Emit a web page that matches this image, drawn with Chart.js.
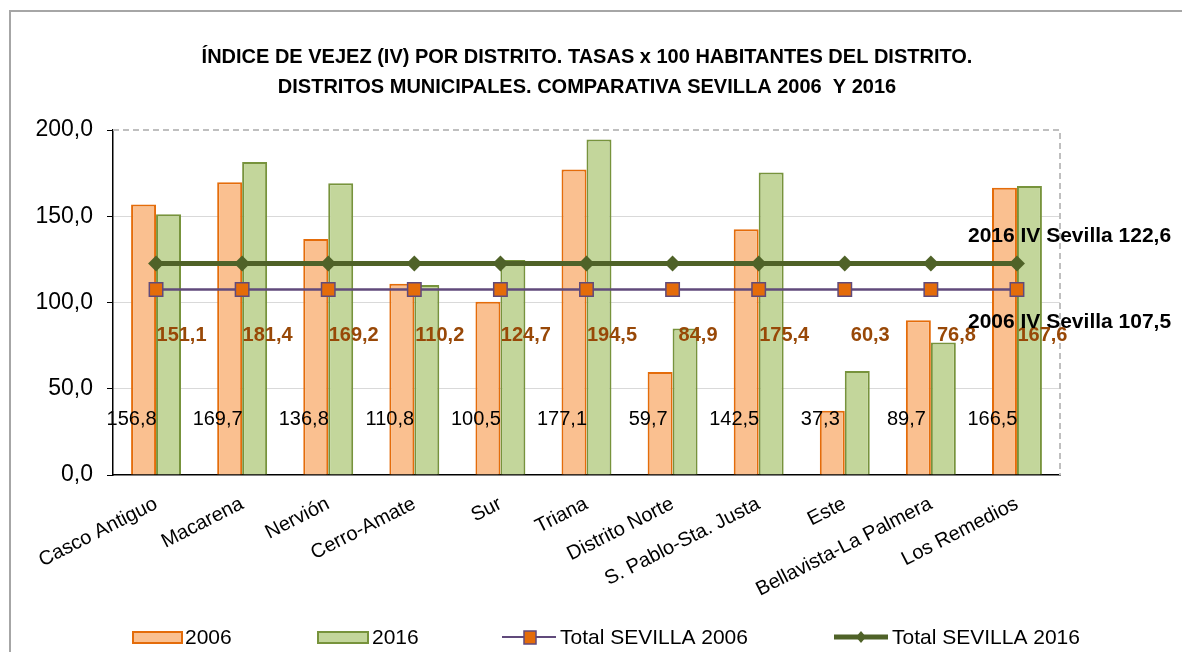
<!DOCTYPE html>
<html>
<head>
<meta charset="utf-8">
<script src="https://cdn.jsdelivr.net/npm/chart.js@4.4.0/dist/chart.umd.min.js"></script>
<style>
    html, body { margin: 0; padding: 0; background: #fff; }
    #wrap { position: relative; width: 1182px; height: 652px; overflow: hidden; }
    #frame { position: absolute; left: 9px; top: 10px; width: 1200px; height: 700px;
             border-left: 2px solid #A6A6A6; border-top: 2px solid #A6A6A6; }
    canvas { position: absolute; left: 0; top: 0; }
</style>
</head>
<body>
<div id="wrap">
    <div id="frame"></div>
    <canvas id="chart" width="1182" height="652"></canvas>
</div>
<script>
// Índice de vejez por distrito, Sevilla 2006 / 2016
const districts = ['Casco Antiguo', 'Macarena', 'Nervión', 'Cerro-Amate', 'Sur', 'Triana',
    'Distrito Norte', 'S. Pablo-Sta. Justa', 'Este', 'Bellavista-La Palmera', 'Los Remedios'];
const values2006 = [156.8, 169.7, 136.8, 110.8, 100.5, 177.1, 59.7, 142.5, 37.3, 89.7, 166.5];
const values2016 = [151.1, 181.4, 169.2, 110.2, 124.7, 194.5, 84.9, 175.4, 60.3, 76.8, 167.6];
const total2006 = [107.5, 107.5, 107.5, 107.5, 107.5, 107.5, 107.5, 107.5, 107.5, 107.5, 107.5];
const total2016 = [122.6, 122.6, 122.6, 122.6, 122.6, 122.6, 122.6, 122.6, 122.6, 122.6, 122.6];
const yTicks = [0, 50, 100, 150, 200];

const titleLines = ['ÍNDICE DE VEJEZ (IV) POR DISTRITO. TASAS x 100 HABITANTES DEL DISTRITO.',
    'DISTRITOS MUNICIPALES. COMPARATIVA SEVILLA 2006  Y 2016'];

const ORANGE = '#E46C0A', ORANGE_FILL = '#FAC090';
const GREEN = '#77933C', GREEN_FILL = '#C3D69B';
const PURPLE = '#604A7B', DARK_GREEN = '#4F6228';
const BROWN = '#984807';

const fmt = v => v.toFixed(1).replace('.', ',');

// title, data labels, annotations, border and legend
const decorPlugin = {
    id: 'decor',
    beforeDatasetsDraw(chart) {
        const { ctx, chartArea: a } = chart;
        ctx.save();
        ctx.strokeStyle = '#BFBFBF';
        ctx.lineWidth = 2;
        ctx.setLineDash([6, 4]);
        ctx.beginPath();
        ctx.moveTo(a.left, a.top);
        ctx.lineTo(a.right, a.top);
        ctx.lineTo(a.right, a.bottom);
        ctx.stroke();
        ctx.restore();
    },
    afterDatasetsDraw(chart) {
        const { ctx } = chart;
        const y = chart.scales.y;
        const bars06 = chart.getDatasetMeta(0).data;
        const bars16 = chart.getDatasetMeta(1).data;
        ctx.save();
        ctx.textAlign = 'center';
        ctx.textBaseline = 'middle';
        ctx.font = '20px Arial, "Liberation Sans"';
        ctx.fillStyle = '#000';
        values2006.forEach((v, i) => {
            ctx.fillText(fmt(v), bars06[i].x - 12, y.getPixelForValue(32));
        });
        ctx.font = 'bold 20px Arial, "Liberation Sans"';
        ctx.fillStyle = BROWN;
        values2016.forEach((v, i) => {
            ctx.fillText(fmt(v), bars16[i].x + 13, y.getPixelForValue(81));
        });

        // total annotations
        const last = chart.getDatasetMeta(3).data[districts.length - 1];
        ctx.textAlign = 'left';
        ctx.fillStyle = '#000';
        ctx.font = 'bold 21px Arial, "Liberation Sans"';
        ctx.fillText('2016 IV Sevilla ' + fmt(total2016[0]), last.x - 49, y.getPixelForValue(total2016[0]) - 27);
        ctx.fillText('2006 IV Sevilla ' + fmt(total2006[0]), last.x - 49, y.getPixelForValue(total2006[0]) + 33);
        ctx.restore();
    },
    afterDraw(chart) {
        const { ctx } = chart;
        ctx.save();
        // title
        ctx.fillStyle = '#000';
        ctx.textAlign = 'center';
        ctx.textBaseline = 'middle';
        ctx.font = 'bold 20px "Liberation Sans Narrow", "Arial Narrow", sans-serif';
        ctx.fillText(titleLines[0], 587, 57);
        ctx.fillText(titleLines[1], 587, 87);

        // legend
        const ly = 637;
        ctx.textAlign = 'left';
        ctx.font = '21px Arial, "Liberation Sans"';
        ctx.lineWidth = 2;
        ctx.fillStyle = ORANGE_FILL; ctx.strokeStyle = ORANGE;
        ctx.fillRect(133, ly - 5, 49, 11); ctx.strokeRect(133, ly - 5, 49, 11);
        ctx.fillStyle = GREEN_FILL; ctx.strokeStyle = GREEN;
        ctx.fillRect(318, ly - 5, 50, 11); ctx.strokeRect(318, ly - 5, 50, 11);
        ctx.fillStyle = '#000';
        ctx.fillText('2006', 185, ly + 1);
        ctx.fillText('2016', 372, ly + 1);

        ctx.strokeStyle = PURPLE; ctx.lineWidth = 2;
        ctx.beginPath(); ctx.moveTo(502, ly); ctx.lineTo(556, ly); ctx.stroke();
        ctx.fillStyle = ORANGE; ctx.lineWidth = 1.5;
        ctx.fillRect(524, ly - 6, 12, 13); ctx.strokeRect(524, ly - 6, 12, 13);
        ctx.fillStyle = '#000';
        ctx.fillText('Total SEVILLA 2006', 560, ly + 1);

        ctx.strokeStyle = DARK_GREEN; ctx.lineWidth = 5;
        ctx.beginPath(); ctx.moveTo(834, ly); ctx.lineTo(888, ly); ctx.stroke();
        ctx.fillStyle = DARK_GREEN;
        ctx.beginPath();
        ctx.moveTo(861, ly - 6); ctx.lineTo(866, ly); ctx.lineTo(861, ly + 6); ctx.lineTo(856, ly);
        ctx.closePath(); ctx.fill();
        ctx.fillStyle = '#000';
        ctx.fillText('Total SEVILLA 2016', 892, ly + 1);
        ctx.restore();
    }
};

new Chart(document.getElementById('chart'), {
    data: {
        labels: districts,
        datasets: [
            {
                type: 'bar', label: '2006', data: values2006, order: 2,
                backgroundColor: ORANGE_FILL, borderColor: ORANGE, borderWidth: 2,
                categoryPercentage: 0.58, barPercentage: 1
            },
            {
                type: 'bar', label: '2016', data: values2016, order: 2,
                backgroundColor: GREEN_FILL, borderColor: GREEN, borderWidth: 2,
                categoryPercentage: 0.58, barPercentage: 1
            },
            {
                type: 'line', label: 'Total SEVILLA 2006', data: total2006, order: 1,
                borderColor: PURPLE, borderWidth: 2.5,
                pointStyle: 'rect', pointRadius: 9.5, pointHoverRadius: 9.5,
                pointBackgroundColor: ORANGE, pointBorderColor: PURPLE, pointBorderWidth: 1.5
            },
            {
                type: 'line', label: 'Total SEVILLA 2016', data: total2016, order: 0,
                borderColor: DARK_GREEN, borderWidth: 5,
                pointStyle: 'rectRot', pointRadius: 8, pointHoverRadius: 8,
                pointBackgroundColor: DARK_GREEN, pointBorderColor: DARK_GREEN, pointBorderWidth: 0
            }
        ]
    },
    options: {
        responsive: false,
        animation: false,
        events: [],
        layout: { padding: { top: 130, left: 0, right: 122, bottom: 37 } },
        plugins: {
            legend: { display: false },
            title: { display: false },
            tooltip: { enabled: false }
        },
        scales: {
            x: {
                offset: true,
                grid: { display: false, drawTicks: false },
                border: { display: true, color: '#000', width: 1.5 },
                ticks: {
                    color: '#000', font: { family: 'Arial, "Liberation Sans"', size: 20 },
                    maxRotation: 27, minRotation: 27, autoSkip: false, padding: 17,
                    labelOffset: 0
                },
                afterFit: s => { s.height = 140; }
            },
            y: {
                min: 0, max: 200,
                afterBuildTicks: s => { s.ticks = yTicks.map(v => ({ value: v })); },
                grid: {
                    color: ctx => (ctx.tick && (ctx.tick.value === 0 || ctx.tick.value === 200)) ? 'rgba(0,0,0,0)' : '#D9D9D9',
                    lineWidth: 1, tickLength: 6, tickColor: '#000',
                    drawOnChartArea: true
                },
                border: { display: true, color: '#000', width: 1.5 },
                ticks: {
                    color: '#000', font: { family: 'Arial, "Liberation Sans"', size: 23 },
                    padding: 14, callback: v => fmt(v)
                },
                afterFit: s => { s.width = 113; }
            }
        }
    },
    plugins: [decorPlugin]
});
</script>
</body>
</html>
